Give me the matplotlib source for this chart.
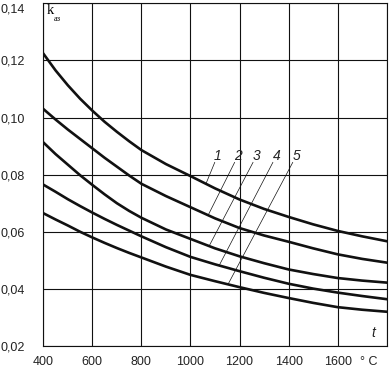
import numpy as np
import matplotlib
matplotlib.use("Agg")
import matplotlib.pyplot as plt

# temperature, deg C
temps = [400, 450, 500, 550, 600, 650, 700, 750, 800, 900, 1000, 1100, 1200, 1300, 1400, 1500, 1600, 1700, 1800]

# k_az for curves 1..5
k1 = [0.1224, 0.1165, 0.1113, 0.1066, 0.1024, 0.0985, 0.0950, 0.0917, 0.0886, 0.0837, 0.0795,
      0.0752, 0.0713, 0.0680, 0.0652, 0.0626, 0.0603, 0.0584, 0.0567]
k2 = [0.1030, 0.0993, 0.0958, 0.0925, 0.0892, 0.0859, 0.0828, 0.0797, 0.0768, 0.0725, 0.0686,
      0.0647, 0.0613, 0.0587, 0.0565, 0.0542, 0.0521, 0.0505, 0.0492]
k3 = [0.0913, 0.0872, 0.0835, 0.0798, 0.0764, 0.0731, 0.0700, 0.0673, 0.0649, 0.0608, 0.0575,
      0.0542, 0.0514, 0.0490, 0.0468, 0.0452, 0.0438, 0.0429, 0.0422]
k4 = [0.0765, 0.0740, 0.0714, 0.0690, 0.0667, 0.0645, 0.0624, 0.0604, 0.0584, 0.0546, 0.0512,
      0.0486, 0.0462, 0.0439, 0.0418, 0.0401, 0.0387, 0.0375, 0.0364]
k5 = [0.0665, 0.0643, 0.0622, 0.0600, 0.0580, 0.0561, 0.0543, 0.0526, 0.0510, 0.0478, 0.0449,
      0.0427, 0.0406, 0.0386, 0.0368, 0.0351, 0.0336, 0.0327, 0.0320]
curves = [k1, k2, k3, k4, k5]
curve_names = ['1', '2', '3', '4', '5']

x_ticks = [400, 600, 800, 1000, 1200, 1400, 1600]
y_ticks = [0.02, 0.04, 0.06, 0.08, 0.10, 0.12, 0.14]
y_tick_labels = ['0,02', '0,04', '0,06', '0,08', '0,10', '0,12', '0,14']

# where the numbers sit and where their leader lines touch the curves
label_x = [1110, 1194, 1269, 1352, 1434]
leader_top_x = [1099, 1180, 1255, 1336, 1417]
leader_bot_x = [1063, 1072, 1076, 1117, 1153]

plt.rcParams['font.family'] = ['Liberation Sans', 'DejaVu Sans']

fig = plt.figure(figsize=(3.92, 3.72), dpi=100)
ax = fig.add_axes([43.3 / 392, 26 / 372, 343.4 / 392, 342.7 / 372])

for k in curves:
    ax.plot(temps, k, color='#111111', lw=1.9, solid_joinstyle='round')

for i in range(len(curves)):
    yb = np.interp(leader_bot_x[i], temps, curves[i])
    ax.plot([leader_bot_x[i], leader_top_x[i]], [yb, 0.0843], color='#111111', lw=0.5)
    ax.text(label_x[i], 0.0867, curve_names[i], style='italic', fontsize=10,
            ha='center', va='center', color='#222222')

ax.set_xlim(400, 1800)
ax.set_ylim(0.02, 0.14)
ax.set_xticks(x_ticks + [1800])
ax.set_yticks(y_ticks)
ax.set_yticklabels(y_tick_labels)
ax.set_xticklabels([str(v) for v in x_ticks] + [''])
ax.tick_params(length=0, labelsize=9, labelcolor='#222222')
ax.tick_params(axis='y', pad=13)
ax.tick_params(axis='x', pad=7)
ax.get_yticklabels()[-1].set_va('top')
ax.grid(True, color='#111111', lw=0.8)
for s in ax.spines.values():
    s.set_color('#111111')
    s.set_linewidth(0.8)

ax.text(1745, 0.0245, 't', style='italic', fontsize=10, ha='center', va='center', color='#222222')
fig.text(369 / 392, 1 - 361.7 / 372, '° C', fontsize=9, ha='center', va='center', color='#222222')
ax.text(415, 0.1361, 'k', family='Liberation Serif', fontsize=10.5, ha='left', va='baseline')
ax.text(441, 0.1338, 'аз', family='Liberation Serif', fontsize=6, ha='left', va='baseline')

fig.savefig('out.png', dpi=100)
